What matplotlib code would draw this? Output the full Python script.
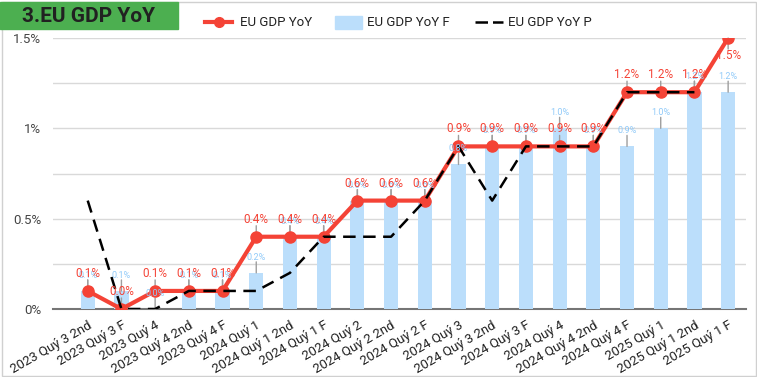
import matplotlib
matplotlib.use("Agg")
import matplotlib.pyplot as plt
from matplotlib.lines import Line2D
from matplotlib.patches import Rectangle

plt.rcParams["font.family"] = ["Roboto", "DejaVu Sans"]

W, H = 757, 377

categories = [
    "2023 Quý 3 2nd", "2023 Quý 3 F", "2023 Quý 4", "2023 Quý 4 2nd", "2023 Quý 4 F",
    "2024 Quý 1", "2024 Quý 1 2nd", "2024 Quý 1 F", "2024 Quý 2", "2024 Quý 2 2nd",
    "2024 Quý 2 F", "2024 Quý 3", "2024 Quý 3 2nd", "2024 Quý 3 F", "2024 Quý 4",
    "2024 Quý 4 2nd", "2024 Quý 4 F", "2025 Quý 1", "2025 Quý 1 2nd", "2025 Quý 1 F",
]
actual = [0.1, 0.0, 0.1, 0.1, 0.1, 0.4, 0.4, 0.4, 0.6, 0.6,
          0.6, 0.9, 0.9, 0.9, 0.9, 0.9, 1.2, 1.2, 1.2, 1.5]
forecast = [0.1, 0.1, 0.0, 0.1, 0.1, 0.2, 0.4, 0.4, 0.6, 0.6,
            0.6, 0.8, 0.9, 0.9, 1.0, 0.9, 0.9, 1.0, 1.2, 1.2]
previous = [0.6, 0.0, 0.0, 0.1, 0.1, 0.1, 0.2, 0.4, 0.4, 0.4,
            0.6, 0.9, 0.6, 0.9, 0.9, 0.9, 1.2, 1.2, 1.2]
yticks = [0, 0.5, 1.0, 1.5]
ytick_labels = ["0%", "0.5%", "1%", "1.5%"]

RED = "#f44336"
BAR = "#bbdefb"
BAR_TXT = "#90caf9"
LEADER = "#9e9e9e"

fig = plt.figure(figsize=(W / 100, H / 100), dpi=100)
# gridlines run from x=53 to x=746, categories start further right
ax = fig.add_axes([53 / W, (H - 309) / H, 693 / W, (309 - 38) / H])

x = list(range(len(categories)))
ax.bar(x, forecast, width=0.42, color=BAR, zorder=2)
ax.plot(x, actual, color=RED, linewidth=3, marker="o", markersize=8, zorder=4)
ax.plot(range(len(previous)), previous, color="black", linewidth=1.8,
        dashes=(5, 3), zorder=5)


def label(xi, yi, text, color, size, below=False):
    d = -1 if below else 1
    ax.annotate("", xy=(xi, yi), xytext=(0, 11 * d), textcoords="offset pixels",
                arrowprops=dict(arrowstyle="-", color=LEADER, lw=1, shrinkA=0, shrinkB=0),
                zorder=3)
    ax.annotate(text, xy=(xi, yi), xytext=(0, 11 * d), textcoords="offset pixels",
                ha="center", va="top" if below else "bottom",
                color=color, fontsize=size, zorder=6)


for xi, v in zip(x, forecast):
    label(xi, v, f"{v:.1f}%", BAR_TXT, 6.5)
for xi, v in zip(x, actual):
    label(xi, v, f"{v:.1f}%", RED, 8.5, below=(v >= 1.5))

ax.set_xlim(-1.03, len(categories) - 0.47)
ax.set_ylim(0, 1.5)
ax.set_yticks(yticks)
ax.set_yticklabels(ytick_labels)
ax.set_yticks([0.25, 0.75, 1.25], minor=True)
ax.grid(axis="y", which="both", color="#d9d9d9", linewidth=1, zorder=0)
ax.set_axisbelow(True)
ax.set_xticks(x)
ax.set_xticklabels(categories, rotation=30, ha="right", rotation_mode="anchor")
ax.tick_params(axis="x", length=0, pad=7, labelsize=9.5, labelcolor="#222222")
ax.tick_params(axis="y", which="both", length=0, pad=8.5, labelsize=9.5, labelcolor="#444444")
for s in ["top", "right", "left"]:
    ax.spines[s].set_visible(False)
ax.spines["bottom"].set_color("#757575")
ax.spines["bottom"].set_linewidth(1.5)
ax.spines["bottom"].set_zorder(1)

# frame around the chart
fig.patches.append(Rectangle((1.5 / W, 1.5 / H), (W - 3) / W, (H - 3) / H,
                             transform=fig.transFigure, fill=False,
                             edgecolor="#d0d0d0", linewidth=1))

# title box
fig.patches.append(Rectangle((0, (H - 29) / H), 178 / W, 27 / H,
                             transform=fig.transFigure, color="#4caf50", zorder=1))
fig.text(89 / W, (H - 16) / H, "3.EU GDP YoY", ha="center", va="center",
         fontsize=15, fontweight="bold", color="#212121")

# legend
ly = (H - 22) / H
fig.add_artist(Line2D([205 / W, 232 / W], [ly, ly], color=RED, linewidth=3,
                      transform=fig.transFigure))
fig.add_artist(Line2D([219 / W], [ly], color=RED, marker="o", markersize=7,
                      transform=fig.transFigure))
fig.text(240 / W, ly, "EU GDP YoY", va="center", fontsize=9.5, color="#222222")
fig.patches.append(Rectangle((335 / W, (H - 29) / H), 27 / W, 13 / H,
                             transform=fig.transFigure, color=BAR))
fig.text(367 / W, ly, "EU GDP YoY F", va="center", fontsize=9.5, color="#222222")
fig.add_artist(Line2D([475 / W, 503 / W], [ly, ly], color="black", linewidth=1.8,
                      dashes=(5, 2), transform=fig.transFigure))
fig.text(508 / W, ly, "EU GDP YoY P", va="center", fontsize=9.5, color="#222222")

fig.savefig("out.png", dpi=100)
